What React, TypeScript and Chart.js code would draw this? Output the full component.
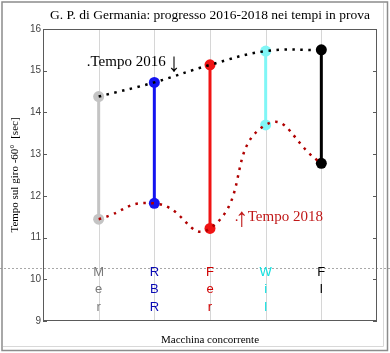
import React, { useEffect, useRef } from "react";
import { Chart, registerables } from "chart.js";

Chart.register(...registerables);

// ---- data ----
const cars = ["Mer", "RBR", "Fer", "Wil", "FI"];
const carLetters = [["M", "e", "r"], ["R", "B", "R"], ["F", "e", "r"], ["W", "i", "l"], ["F", "I"]];
const times2016 = [14.38, 14.72, 15.14, 15.47, 15.5];
const times2018 = [11.44, 11.82, 11.22, 13.7, 12.78];
const carColors = ["#c4c4c4", "#1414f0", "#f01414", "#80f6f6", "#000000"];
const labelColors = ["#7a7a7a", "#0a0ab4", "#d00000", "#10e0e0", "#000000"];
const referenceLine = 10.27;
const yMin = 9;
const yMax = 16;
const titleText = "G. P. di Germania: progresso 2016-2018 nei tempi in prova";
const xTitleText = "Macchina concorrente";
const yTitleText = "Tempo sul giro -60°  [sec]";
const label2016 = ".Tempo 2016";
const label2018 = "Tempo 2018";

const SERIF = "'Liberation Serif', 'Times New Roman', serif";
const SANS = "'Liberation Sans', Arial, sans-serif";

const decorPlugin = {
  id: "decor",
  beforeDatasetsDraw(chart: any) {
    const { ctx, chartArea: a, scales } = chart;
    const y = scales.y;
    const x = scales.x;
    ctx.save();
    // vertical grid lines at the categories
    ctx.strokeStyle = "#d6d6d6";
    ctx.lineWidth = 1;
    ctx.beginPath();
    cars.forEach((_, i) => {
      const px = Math.round(x.getPixelForValue(i + 1)) + 0.5;
      ctx.moveTo(px, a.top);
      ctx.lineTo(px, a.bottom);
    });
    ctx.stroke();

    // dashed reference line across the whole figure
    const yy = Math.round(y.getPixelForValue(referenceLine)) + 0.5;
    ctx.strokeStyle = "#a8a8a8";
    ctx.setLineDash([2, 2]);
    ctx.beginPath();
    ctx.moveTo(0, yy);
    ctx.lineTo(chart.width, yy);
    ctx.stroke();
    ctx.setLineDash([]);

    // plot box
    ctx.strokeStyle = "#5a5a5a";
    ctx.strokeRect(a.left + 0.5, a.top + 0.5, a.right - a.left - 1, a.bottom - a.top - 1);

    // inward ticks left and right
    ctx.beginPath();
    y.ticks.forEach((t: any) => {
      const p = Math.round(y.getPixelForValue(t.value)) + 0.5;
      ctx.moveTo(a.left, p);
      ctx.lineTo(a.left + 4, p);
      ctx.moveTo(a.right - 4, p);
      ctx.lineTo(a.right, p);
    });
    ctx.stroke();

    // stacked category letters
    ctx.font = `13px ${SANS}`;
    ctx.textAlign = "center";
    ctx.textBaseline = "middle";
    carLetters.forEach((letters, i) => {
      const px = x.getPixelForValue(i + 1);
      ctx.fillStyle = labelColors[i];
      letters.forEach((ch, j) => {
        ctx.fillText(ch, px, a.bottom - 48.5 + j * 17.3);
      });
    });
    ctx.restore();
  },
  afterDraw(chart: any) {
    const { ctx, chartArea: a, scales } = chart;
    const x = scales.x;
    ctx.save();
    // title
    ctx.fillStyle = "#000";
    ctx.textAlign = "center";
    ctx.textBaseline = "middle";
    ctx.font = `13.5px ${SERIF}`;
    ctx.fillText(titleText, (a.left + a.right) / 2, 15);
    // x title
    ctx.font = `11px ${SERIF}`;
    ctx.fillText(xTitleText, (a.left + a.right) / 2, 340.5);
    // y title
    ctx.save();
    ctx.translate(15, (a.top + a.bottom) / 2);
    ctx.rotate(-Math.PI / 2);
    ctx.fillText(yTitleText, 0, 0);
    ctx.restore();

    // annotations
    ctx.textAlign = "left";
    ctx.textBaseline = "alphabetic";
    ctx.font = `15px ${SERIF}`;
    ctx.fillStyle = "#000";
    const x16 = x.getPixelForValue(0.785);
    ctx.fillText(label2016, x16, 66);
    ctx.textAlign = "center";
    ctx.font = `26px ${SERIF}`;
    ctx.fillText("↓", 174, 71);

    ctx.fillStyle = "#c01818";
    const x18 = x.getPixelForValue(3.48);
    ctx.textAlign = "left";
    ctx.font = `15px ${SERIF}`;
    ctx.fillText(".", x18 - 2, 221);
    ctx.textAlign = "center";
    ctx.font = `26px ${SERIF}`;
    ctx.fillText("↑", x18 + 5, 226);
    ctx.textAlign = "left";
    ctx.font = `15px ${SERIF}`;
    ctx.fillText(label2018, x18 + 11, 221);

    // outer frame
    ctx.strokeStyle = "#8c8c8c";
    ctx.lineWidth = 1.5;
    ctx.strokeRect(2, 2, 385.5, 348.5);
    ctx.strokeStyle = "#d8d8d8";
    ctx.lineWidth = 1;
    ctx.beginPath();
    ctx.moveTo(383.5, 3);
    ctx.lineTo(383.5, 346.5);
    ctx.lineTo(3, 346.5);
    ctx.stroke();
    ctx.restore();
  },
};

export default function App() {
  const ref = useRef<HTMLCanvasElement | null>(null);
  useEffect(() => {
    if (!ref.current) return;
    const stemSets = cars.map((c, i) => ({
      label: c,
      data: [
        { x: i + 1, y: times2016[i] },
        { x: i + 1, y: times2018[i] },
      ],
      borderColor: carColors[i],
      backgroundColor: carColors[i],
      pointBackgroundColor: carColors[i],
      pointBorderWidth: 0,
      pointRadius: 5.5,
      borderWidth: 3,
      showLine: true,
      order: 2,
    }));
    const chart = new Chart(ref.current, {
      type: "line",
      data: {
        datasets: [
          {
            label: "2016",
            data: times2016.map((v, i) => ({ x: i + 1, y: v })),
            borderColor: "#000000",
            borderWidth: 2.5,
            borderDash: [2.5, 5.5],
            tension: 0.4,
            pointRadius: 0,
            fill: false,
            order: 0,
          },
          {
            label: "2018",
            data: times2018.map((v, i) => ({ x: i + 1, y: v })),
            borderColor: "#b00000",
            borderWidth: 2.5,
            borderDash: [2.5, 5.5],
            tension: 0.55,
            pointRadius: 0,
            fill: false,
            order: 0,
          },
          ...stemSets,
        ] as any,
      },
      options: {
        animation: false,
        responsive: false,
        maintainAspectRatio: false,
        events: [],
        layout: { padding: { top: 29, right: 13, left: 0, bottom: 0 } },
        plugins: { legend: { display: false }, tooltip: { enabled: false }, title: { display: false } },
        scales: {
          x: {
            type: "linear",
            min: 0,
            max: 6,
            ticks: { display: false, stepSize: 1 },
            border: { display: false },
            grid: { display: false, drawTicks: false },
            afterFit: (s: any) => {
              s.height = 32;
            },
          },
          y: {
            type: "linear",
            min: yMin,
            max: yMax,
            ticks: { stepSize: 1, padding: 2, color: "#444", font: { family: SANS, size: 10 } },
            border: { display: false },
            grid: { display: false, drawTicks: false },
            afterFit: (s: any) => {
              s.width = 43;
            },
          },
        },
      },
      plugins: [decorPlugin],
    });
    return () => chart.destroy();
  }, []);
  return (
    <div style={{ position: "absolute", left: 0, top: 0, width: 390, height: 353, background: "#fff" }}>
      <canvas ref={ref} width={390} height={353} style={{ display: "block", width: 390, height: 353 }} />
    </div>
  );
}
